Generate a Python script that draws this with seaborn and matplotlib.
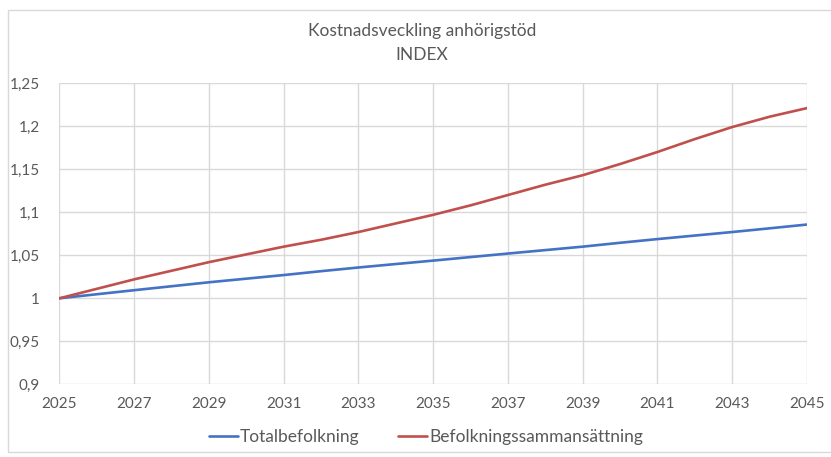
import pandas as pd
import numpy as np
from matplotlib import pyplot as plt
from matplotlib.ticker import FuncFormatter, MultipleLocator
from matplotlib.patches import Rectangle
import seaborn as sns

# data
years = list(range(2025, 2046))
totalbefolkning = [1.0000, 1.0047, 1.0094, 1.0140, 1.0186, 1.0228, 1.0270, 1.0315, 1.0358, 1.0398,
                   1.0438, 1.0479, 1.0520, 1.0560, 1.0600, 1.0645, 1.0688, 1.0729, 1.0770, 1.0813, 1.0857]
befolkningssammansattning = [1.000, 1.011, 1.022, 1.032, 1.042, 1.051, 1.060, 1.068, 1.077, 1.087,
                             1.097, 1.108, 1.120, 1.132, 1.143, 1.156, 1.170, 1.185, 1.199, 1.211, 1.221]
series_names = ["Totalbefolkning", "Befolkningssammansättning"]
colors = ["#4472C4", "#C0504D"]
xticks = years[::2]

df = pd.concat([
    pd.DataFrame({"År": years, "Index": totalbefolkning, "Serie": series_names[0]}),
    pd.DataFrame({"År": years, "Index": befolkningssammansattning, "Serie": series_names[1]}),
])

sns.set_theme(style="white")
plt.rcParams['font.family'] = ['Lato', 'DejaVu Sans']
text_col = "#595959"

fig = plt.figure(figsize=(8.31, 4.57), dpi=100)
# light frame around the chart like the Excel chart area
fig.patches.append(Rectangle((8 / 831, 5 / 457), 1.0, 1 - 15 / 457, transform=fig.transFigure,
                             fill=False, edgecolor="#d9d9d9", linewidth=1.0))
ax = fig.add_axes([0.0715, 0.159, 0.8995, 0.659])

sns.lineplot(data=df, x="År", y="Index", hue="Serie", palette=colors, linewidth=1.9, ax=ax)

ax.set_xlim(2025, 2045)
ax.set_ylim(0.9, 1.25)
ax.set_xticks(xticks)
ax.yaxis.set_major_locator(MultipleLocator(0.05))
ax.yaxis.set_major_formatter(FuncFormatter(lambda v, p: f"{v:.2f}".rstrip("0").rstrip(".").replace(".", ",")))
ax.grid(True, color="#d9d9d9", linewidth=1.0)
ax.set_axisbelow(True)
for s in ax.spines.values():
    s.set_visible(False)
ax.tick_params(axis="both", length=0, labelsize=11, colors=text_col)
ax.tick_params(axis="y", pad=14)
ax.tick_params(axis="x", pad=9)
ax.set_xlabel("")
ax.set_ylabel("")

fig.text(0.508, 0.906, "Kostnadsveckling anhörigstöd\nINDEX", ha="center", va="center",
         fontsize=12.5, color=text_col, linespacing=1.55)

leg = ax.legend(loc="center", bbox_to_anchor=(0.49, -0.175), ncol=2, frameon=False,
                fontsize=12.5, handlelength=1.7, handletextpad=0.1, columnspacing=2.2)
for t in leg.get_texts():
    t.set_color(text_col)

plt.savefig("out.png", dpi=100)
